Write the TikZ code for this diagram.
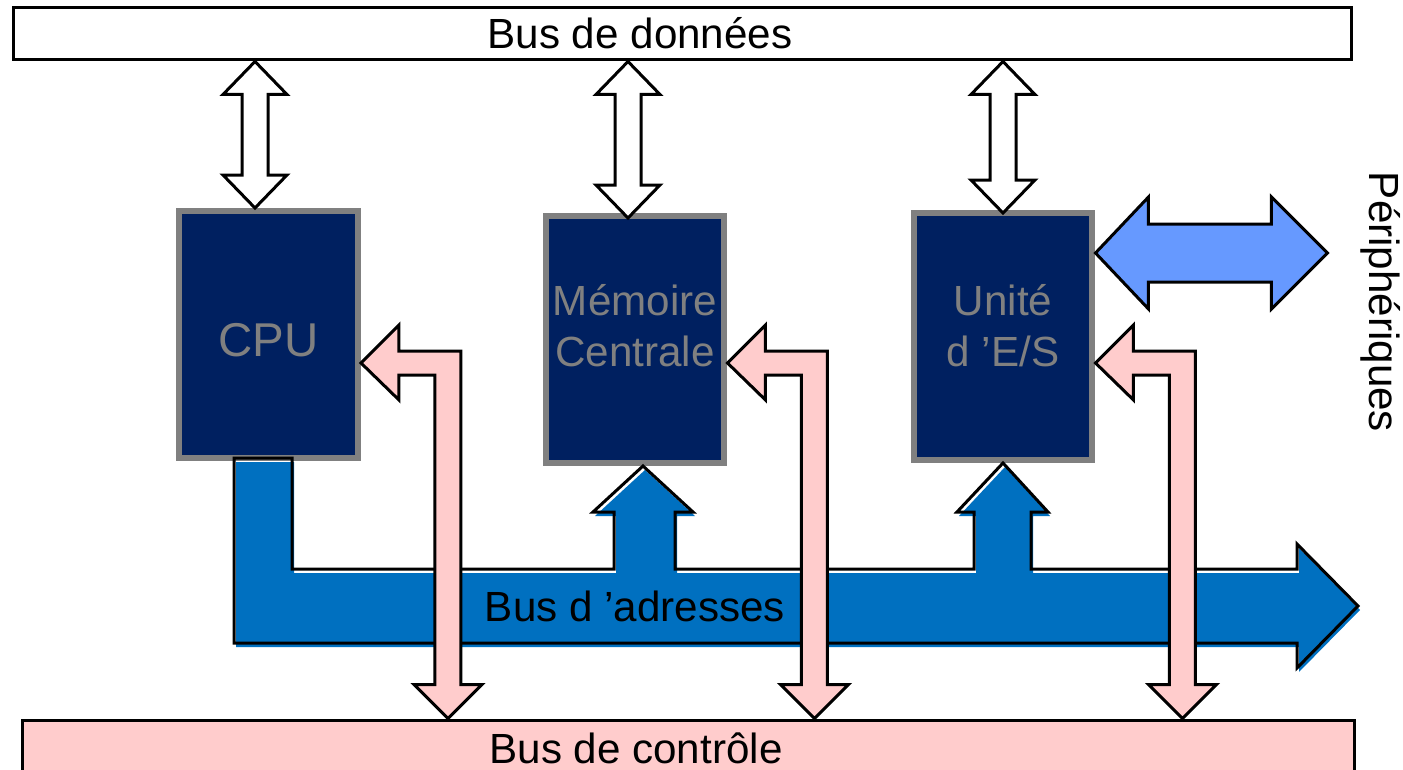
\documentclass[tikz,border=0pt]{standalone}
\usepackage{fontspec}
\setmainfont{Liberation Sans}
\usetikzlibrary{calc}
\definecolor{navy}{RGB}{0,32,96}
\definecolor{boxgray}{RGB}{128,128,128}
\definecolor{busblue}{RGB}{0,112,192}
\definecolor{periph}{RGB}{102,153,255}
\definecolor{ctrlpink}{RGB}{255,204,204}

% vertical double block arrow, #1 upper tip, #2 lower tip
\newcommand\vdarrow[2]{%
  \draw[dataflow] (#1) -- ++(32,33) -- ++(-19,0) -- ($(#2)+(13,-33)$) -- ++(19,0) -- (#2)
    -- ++(-32,-33) -- ++(19,0) -- ($(#1)+(-13,33)$) -- ++(-19,0) -- cycle;}
% horizontal double block arrow, #1 left tip, #2 right tip
\newcommand\hdarrow[2]{%
  \draw[extflow] (#1) -- ++(53,-56) -- ++(0,27) -- ($(#2)+(-56,-29)$) -- ++(0,-27) -- (#2)
    -- ++(-56,56) -- ++(0,-27) -- ($(#1)+(53,29)$) -- ++(0,27) -- cycle;}
% bent control arrow from a unit down to the control bus
\newcommand\ctrlarrow[1]{%
  \draw[ctrlflow] (#1.east |- ctrlrow) -- ++(38,-38) -- ++(0,26) -- ++(62,0)
    -- ($(#1.east |- ctrlbus.north)+(100,-34)$) -- ++(21,0) -- ++(-34,34) -- ++(-34,-34) -- ++(21,0)
    -- ($(#1.east |- ctrlrow)+(74,12)$) -- ++(-36,0) -- ++(0,25) -- cycle;}
\newcommand\addrpath{(234,458) -- (292,458) -- (292,569)
  -- (614,569) -- (614,512) -- (593,512) -- ([xshift=0.8mm]mem.south) -- (693,512) -- (675,512) -- (675,569)
  -- (974,569) -- (974,512) -- (957,512) -- (io.south) -- (1048,512) -- (1031,512) -- (1031,569)
  -- (1297,569) -- (1297,544) -- (1358,606) -- (1297,668) -- (1297,643) -- (234,643) -- cycle}

\begin{document}
\begin{tikzpicture}[x=0.1mm,y=-0.1mm]
  \tikzstyle{every node}=[font=\fontsize{12}{14.5}\selectfont]
  \tikzstyle{bus}=[draw,line width=0.3mm]
  \tikzstyle{unit}=[draw=boxgray,line width=0.6mm,fill=navy,text=boxgray,inner sep=1pt,minimum width=17.9mm,minimum height=24.7mm,align=center]
  \tikzstyle{dataflow}=[draw,fill=white,line width=0.3mm]
  \tikzstyle{extflow}=[draw,fill=periph,line width=0.3mm]
  \tikzstyle{ctrlflow}=[draw,fill=ctrlpink,line width=0.3mm]
  \useasboundingbox (0,0) rectangle (1403,770);

  \node[bus,fill=white,minimum width=133.9mm,minimum height=5.3mm] (databus) at (682.5,33.5) {};
  \node[bus,fill=ctrlpink,minimum width=133.3mm,minimum height=7mm] (ctrlbus) at (688.5,755) {};

  \node[unit,text height=4.4mm] (cpu) at (268.5,334.5) {\fontsize{13.5}{16}\selectfont CPU};
  \node[unit,text depth=2.8mm] (mem) at (635,339.5) {Mémoire\\Centrale};
  \node[unit,text depth=2.2mm] (io) at (1003,336.5) {Unité\\d ’E/S};

  \coordinate (cpuD) at ([xshift=-1.35mm]cpu.north);
  \coordinate (memD) at ([xshift=-0.7mm,yshift=-0.5mm]mem.north);
  \coordinate (ioD) at ([yshift=-0.3mm]io.north);
  \vdarrow{databus.south -| cpuD}{cpuD}
  \vdarrow{databus.south -| memD}{memD}
  \vdarrow{databus.south -| ioD}{ioD}

  \coordinate (iotip) at ([yshift=8.35mm]io.east);
  \coordinate (exttip) at ([xshift=23.2mm]iotip);
  \hdarrow{iotip}{exttip}

  \fill[busblue,transform canvas={shift={(0.2mm,-0.4mm)}}] \addrpath;
  \draw[line width=0.3mm] \addrpath;

  \coordinate (ctrlrow) at (0,363);
  \ctrlarrow{cpu}
  \ctrlarrow{mem}
  \ctrlarrow{io}

  \node (databuslbl) at (640,33) {Bus de données};
  \node (addrbuslbl) at (635,606) {Bus d ’adresses};
  \node (ctrlbuslbl) at (636,748) {Bus de contrôle};
  \node[rotate=-90] (periphlbl) at (1381,302) {Périphériques};
\end{tikzpicture}
\end{document}
